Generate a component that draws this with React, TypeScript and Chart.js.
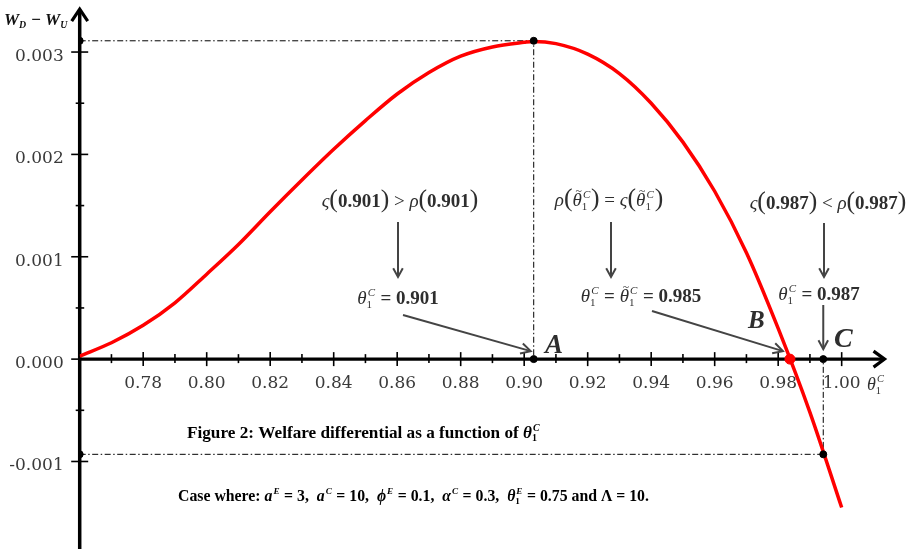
import React, { useEffect, useRef } from "react";
import { Chart, registerables } from "chart.js";

Chart.register(...registerables);

// ---- data ----
const thetaValues = [
  0.76, 0.77, 0.78, 0.79, 0.8, 0.81, 0.82, 0.83, 0.84, 0.85, 0.86, 0.87, 0.88, 0.89,
  0.9, 0.903, 0.91, 0.92, 0.93, 0.94, 0.95, 0.96, 0.97, 0.98, 0.99, 1.0,
];
const welfareValues = [
  0.00003, 0.00016, 0.00033, 0.00055, 0.00083, 0.00112, 0.00144, 0.00175, 0.00205,
  0.00233, 0.00259, 0.0028, 0.00296, 0.00305, 0.003095, 0.003104, 0.003082, 0.00298,
  0.00279, 0.0025, 0.00212, 0.00164, 0.00104, 0.0003, -0.00052, -0.00145,
];
const xMajorTicks = [0.78, 0.8, 0.82, 0.84, 0.86, 0.88, 0.9, 0.92, 0.94, 0.96, 0.98, 1.0];
const xMinorTicks = [0.77, 0.79, 0.81, 0.83, 0.85, 0.87, 0.89, 0.91, 0.93, 0.95, 0.97, 0.99];
const yMajorTicks = [-0.001, 0, 0.001, 0.002, 0.003];
const yMinorTicks = [-0.0005, 0.0005, 0.0015, 0.0025];
const peakTheta = 0.903;
const peakValue = 0.00311;
const pointBTheta = 0.9837;
const pointBValue = 0;
const pointCTheta = 0.9942;
const pointCValue = -0.00093;
const xAxisMin = 0.76;
const xAxisMax = 1.015;
const yAxisMin = -0.001855;
const yAxisMax = 0.0034;

// ---- rich text helpers ----
type Seg = {
  t?: string;
  st?: string;
  subSt?: string;
  k?: number;
  tilde?: boolean;
  sub?: string;
  sup?: string;
};
const FAM = '"Liberation Serif", "Times New Roman", serif';
const fontStr = (st: string | undefined, size: number) => `${st ? st + " " : ""}${size}px ${FAM}`;

function segWidth(ctx: CanvasRenderingContext2D, s: Seg, size: number) {
  if (s.sub !== undefined || s.sup !== undefined) {
    ctx.font = fontStr(s.subSt ?? s.st, size * 0.58);
    const w1 = s.sub ? ctx.measureText(s.sub).width : 0;
    ctx.font = fontStr(s.st, size * 0.58);
    const w2 = s.sup ? ctx.measureText(s.sup).width + size * 0.06 : 0;
    return Math.max(w1, w2) + size * 0.04;
  }
  ctx.font = fontStr(s.st, size * (s.k || 1));
  return ctx.measureText(s.t || "").width;
}

function drawRich(
  ctx: CanvasRenderingContext2D,
  segs: Seg[],
  x: number,
  y: number,
  size: number,
  align: "left" | "center",
  color: string
) {
  const widths = segs.map((s) => segWidth(ctx, s, size));
  const total = widths.reduce((a, b) => a + b, 0);
  let cx = align === "center" ? x - total / 2 : x;
  ctx.save();
  ctx.fillStyle = color;
  ctx.textBaseline = "alphabetic";
  ctx.textAlign = "left";
  segs.forEach((s, i) => {
    if (s.sub !== undefined || s.sup !== undefined) {
      if (s.sup) {
        ctx.font = fontStr(s.st, size * 0.58);
        ctx.fillText(s.sup, cx + size * 0.06, y - size * 0.42);
      }
      if (s.sub) {
        ctx.font = fontStr(s.subSt ?? s.st, size * 0.58);
        ctx.fillText(s.sub, cx, y + size * 0.2);
      }
    } else {
      ctx.font = fontStr(s.st, size * (s.k || 1));
      ctx.fillText(s.t || "", cx, y);
      if (s.tilde) {
        ctx.font = fontStr(undefined, size * 0.62);
        const tw = ctx.measureText("~").width;
        ctx.fillText("~", cx + widths[i] / 2 - tw / 2 + size * 0.08, y - size * 0.6);
      }
    }
    cx += widths[i];
  });
  ctx.restore();
}

function drawArrow(
  ctx: CanvasRenderingContext2D,
  x1: number,
  y1: number,
  x2: number,
  y2: number,
  color: string,
  width: number,
  head: number
) {
  const a = Math.atan2(y2 - y1, x2 - x1);
  ctx.save();
  ctx.strokeStyle = color;
  ctx.lineWidth = width;
  ctx.lineCap = "butt";
  ctx.beginPath();
  ctx.moveTo(x1, y1);
  ctx.lineTo(x2, y2);
  ctx.stroke();
  ctx.lineJoin = "miter";
  ctx.beginPath();
  ctx.moveTo(x2 - head * Math.cos(a - 0.5), y2 - head * Math.sin(a - 0.5));
  ctx.lineTo(x2, y2);
  ctx.lineTo(x2 - head * Math.cos(a + 0.5), y2 - head * Math.sin(a + 0.5));
  ctx.stroke();
  ctx.restore();
}

const T = "#2e2e2e";

const axesPlugin = {
  id: "axesPlugin",
  beforeDatasetsDraw(chart: any) {
    const ctx: CanvasRenderingContext2D = chart.ctx;
    const xs = chart.scales.x;
    const ys = chart.scales.y;
    const x0 = xs.getPixelForValue(xAxisMin);
    const y0 = ys.getPixelForValue(0);
    const xEnd = xs.getPixelForValue(1.0135);
    const yTop = ys.getPixelForValue(0.00342);
    const yBot = ys.getPixelForValue(yAxisMin);
    ctx.save();
    ctx.strokeStyle = "#000";
    // ticks
    ctx.lineWidth = 1.6;
    xMajorTicks.forEach((v) => {
      const p = xs.getPixelForValue(v);
      ctx.beginPath();
      ctx.moveTo(p, y0 - 7);
      ctx.lineTo(p, y0 + 7);
      ctx.stroke();
    });
    xMinorTicks.forEach((v) => {
      const p = xs.getPixelForValue(v);
      ctx.beginPath();
      ctx.moveTo(p, y0 - 5);
      ctx.lineTo(p, y0 + 4);
      ctx.stroke();
    });
    yMajorTicks.forEach((v) => {
      const p = ys.getPixelForValue(v);
      ctx.beginPath();
      ctx.moveTo(x0 - 8.5, p);
      ctx.lineTo(x0 + 8.5, p);
      ctx.stroke();
    });
    yMinorTicks.forEach((v) => {
      const p = ys.getPixelForValue(v);
      ctx.beginPath();
      ctx.moveTo(x0 - 4, p);
      ctx.lineTo(x0 + 4.5, p);
      ctx.stroke();
    });
    // axis lines
    ctx.lineWidth = 3.5;
    ctx.beginPath();
    ctx.moveTo(x0, yBot);
    ctx.lineTo(x0, yTop + 1);
    ctx.stroke();
    ctx.lineWidth = 3.2;
    ctx.beginPath();
    ctx.moveTo(x0, y0);
    ctx.lineTo(xEnd - 1, y0);
    ctx.stroke();
    ctx.lineWidth = 3.2;
    ctx.lineJoin = "miter";
    ctx.beginPath();
    ctx.moveTo(x0 - 8, yTop + 12);
    ctx.lineTo(x0, yTop);
    ctx.lineTo(x0 + 8, yTop + 12);
    ctx.stroke();
    ctx.beginPath();
    ctx.moveTo(xEnd - 11, y0 - 8);
    ctx.lineTo(xEnd, y0);
    ctx.lineTo(xEnd - 11, y0 + 8);
    ctx.stroke();
    // tick labels
    ctx.fillStyle = "#3a3a3a";
    ctx.font = '17px "DejaVu Serif"';
    ctx.textBaseline = "alphabetic";
    ctx.textAlign = "center";
    xMajorTicks.forEach((v) => {
      ctx.fillText(v.toFixed(2), xs.getPixelForValue(v), y0 + 29);
    });
    ctx.textAlign = "right";
    yMajorTicks.forEach((v) => {
      ctx.fillText(v.toFixed(3), x0 - 16, ys.getPixelForValue(v) + 9);
    });
    ctx.restore();
  },
  afterDatasetsDraw(chart: any) {
    const ctx: CanvasRenderingContext2D = chart.ctx;
    const xs = chart.scales.x;
    const ys = chart.scales.y;
    const xA = xs.getPixelForValue(peakTheta);
    const xB = xs.getPixelForValue(pointBTheta);
    const xC = xs.getPixelForValue(pointCTheta);
    const y0 = ys.getPixelForValue(0);
    const S = 19;
    const th: Seg = { t: "θ", st: "italic" };
    const thT: Seg = { t: "θ", st: "italic", tilde: true };
    const s1c: Seg = { sub: "1", sup: "C", st: "italic", subSt: "" };
    const lp: Seg = { t: "(", k: 1.35 };
    const rp: Seg = { t: ")", k: 1.35 };

    // upper expressions
    drawRich(ctx, [
      { t: "ς", st: "italic" }, lp, { t: "0.901", st: "bold" }, rp, { t: " > " },
      { t: "ρ", st: "italic" }, lp, { t: "0.901", st: "bold" }, rp,
    ], 400, 207, S, "center", T);
    drawRich(ctx, [
      { t: "ρ", st: "italic" }, lp, thT, s1c, rp, { t: " = " },
      { t: "ς", st: "italic" }, lp, thT, s1c, rp,
    ], 609, 206, S, "center", T);
    drawRich(ctx, [
      { t: "ς", st: "italic" }, lp, { t: "0.987", st: "bold" }, rp, { t: " < " },
      { t: "ρ", st: "italic" }, lp, { t: "0.987", st: "bold" }, rp,
    ], 828, 209, S, "center", T);

    // lower expressions
    drawRich(ctx, [th, s1c, { t: " = ", st: "bold" }, { t: "0.901", st: "bold" }], 398, 304, S, "center", T);
    drawRich(ctx, [th, s1c, { t: " = ", st: "bold" }, thT, s1c, { t: " = ", st: "bold" }, { t: "0.985", st: "bold" }], 641, 302, S, "center", T);
    drawRich(ctx, [th, s1c, { t: " = ", st: "bold" }, { t: "0.987", st: "bold" }], 819, 300, S, "center", T);

    // arrows
    const G = "#444";
    drawArrow(ctx, 398, 222, 398, 277, G, 2, 10);
    drawArrow(ctx, 611, 222, 611, 277, G, 2, 10);
    drawArrow(ctx, 824, 223, 824, 277, G, 2, 10);
    drawArrow(ctx, xC, 305, xC, y0 - 10, G, 2, 10);
    drawArrow(ctx, 403, 315, xA - 3, y0 - 8, G, 2, 11);
    drawArrow(ctx, 652, 311, xB - 7, y0 - 8, G, 2, 11);

    // point letters
    drawRich(ctx, [{ t: "A", st: "bold italic" }], 545, 353, 27, "left", T);
    drawRich(ctx, [{ t: "B", st: "bold italic" }], 748, 328, 25, "left", T);
    drawRich(ctx, [{ t: "C", st: "bold italic" }], 834, 347, 28, "left", T);

    // axis titles
    drawRich(ctx, [
      { t: "W", st: "bold italic" }, { sub: "D", st: "bold italic" }, { t: " − ", st: "bold" },
      { t: "W", st: "bold italic" }, { sub: "U", st: "bold italic" },
    ], 4, 25, 17, "left", "#111");
    drawRich(ctx, [th, s1c], 867, 390, 18, "left", "#333");

    // captions
    drawRich(ctx, [
      { t: "Figure 2: Welfare differential as a function of ", st: "bold" },
      { t: "θ", st: "bold italic" }, { sub: "1", sup: "C", st: "bold italic", subSt: "bold" },
    ], 187, 438, 17.2, "left", "#000");
    const B = "bold";
    const BI = "bold italic";
    drawRich(ctx, [
      { t: "Case where: ", st: B },
      { t: "a", st: BI }, { sup: "E", st: BI }, { t: " = 3,  ", st: B },
      { t: "a", st: BI }, { sup: "C", st: BI }, { t: " = 10,  ", st: B },
      { t: "ϕ", st: BI }, { sup: "E", st: BI }, { t: " = 0.1,  ", st: B },
      { t: "α", st: BI }, { sup: "C", st: BI }, { t: " = 0.3,  ", st: B },
      { t: "θ", st: BI }, { sub: "1", sup: "E", st: BI, subSt: B }, { t: " = 0.75 and ", st: B },
      { t: "Λ", st: B }, { t: " = 10.", st: B },
    ], 178, 501, 15.8, "left", "#000");
  },
};

export default function App() {
  const canvasRef = useRef<HTMLCanvasElement | null>(null);

  useEffect(() => {
    if (!canvasRef.current) return;
    const curve = thetaValues.map((t, i) => ({ x: t, y: welfareValues[i] }));
    const guideA = [
      { x: xAxisMin, y: peakValue },
      { x: peakTheta, y: peakValue },
      { x: peakTheta, y: 0 },
    ];
    const guideC = [
      { x: xAxisMin, y: pointCValue },
      { x: pointCTheta, y: pointCValue },
      { x: pointCTheta, y: 0 },
    ];
    const blackDots = [
      { x: xAxisMin, y: peakValue },
      { x: peakTheta, y: peakValue },
      { x: peakTheta, y: 0 },
      { x: pointCTheta, y: 0 },
      { x: xAxisMin, y: pointCValue },
      { x: pointCTheta, y: pointCValue },
    ];
    const chart = new Chart(canvasRef.current, {
      type: "scatter",
      data: {
        datasets: [
          {
            data: [{ x: pointBTheta, y: pointBValue }],
            backgroundColor: "#ff0000",
            borderColor: "#ff0000",
            pointRadius: 5,
            showLine: false,
            order: 0,
          },
          {
            data: blackDots,
            backgroundColor: "#000",
            borderColor: "#000",
            pointRadius: 3.5,
            showLine: false,
            order: 1,
          },
          {
            data: curve,
            borderColor: "#ff0000",
            borderWidth: 3.5,
            pointRadius: 0,
            showLine: true,
            cubicInterpolationMode: "monotone",
            order: 2,
          },
          {
            data: guideA,
            borderColor: "#000",
            borderWidth: 1,
            borderDash: [6, 2.5, 1.5, 2.5],
            pointRadius: 0,
            showLine: true,
            order: 3,
          },
          {
            data: guideC,
            borderColor: "#000",
            borderWidth: 1,
            borderDash: [6, 2.5, 1.5, 2.5],
            pointRadius: 0,
            showLine: true,
            order: 4,
          },
        ],
      },
      options: {
        animation: false,
        responsive: false,
        devicePixelRatio: 1,
        layout: { padding: { left: 79.7, right: 21.7, top: 11.1, bottom: 0 } },
        scales: {
          x: { type: "linear", min: xAxisMin, max: xAxisMax, display: false },
          y: { type: "linear", min: yAxisMin, max: yAxisMax, display: false },
        },
        plugins: {
          legend: { display: false },
          tooltip: { enabled: false },
        },
        events: [],
      },
      plugins: [axesPlugin],
    } as any);
    return () => chart.destroy();
  }, []);

  return (
    <div style={{ position: "absolute", left: 0, top: 0, width: 911, height: 555, background: "#fff" }}>
      <canvas ref={canvasRef} width={911} height={555} style={{ display: "block" }} />
    </div>
  );
}
